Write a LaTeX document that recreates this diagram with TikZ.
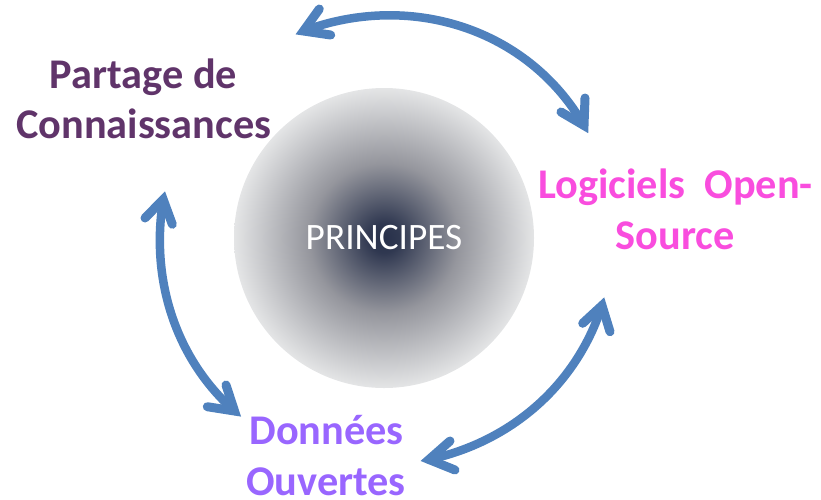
\documentclass[tikz,border=0pt]{standalone}
\usepackage{fontspec}
\setmainfont{Carlito}
\definecolor{arrowblue}{HTML}{4F81BD}
\definecolor{partagecol}{HTML}{60346A}
\definecolor{logicol}{HTML}{F94DDE}
\definecolor{donneescol}{HTML}{9966FF}
\definecolor{ballin}{HTML}{27304A}
\definecolor{ballmid}{HTML}{95969D}
\definecolor{ballout}{HTML}{E4E5E6}
\pgfdeclareradialshading{ballshade}{\pgfpoint{0bp}{0bp}}{%
 color(0bp)=(ballin); color(2.5bp)=(ballin!92!ballmid); color(12.5bp)=(ballmid); color(25bp)=(ballout); color(100bp)=(ballout)}
\tikzset{
 lab/.style={font=\bfseries\fontsize{42.3}{42.3}\selectfont,inner sep=0pt,anchor=base},
 shaft/.style={draw=arrowblue,line width=8.5pt,line cap=round,line join=round},
 head/.style={draw=arrowblue,line width=9pt,line cap=round,line join=miter,miter limit=12},
}
\begin{document}
\begin{tikzpicture}[x=1pt,y=-1pt]
\useasboundingbox (0,0) rectangle (821,499);
% ball
\node[circle,minimum size=300pt,inner sep=0pt,shading=ballshade,text=white,font=\fontsize{37.3}{37.3}\selectfont] (ball) at (384,238) {\raisebox{-1pt}{PRINCIPES}};
% labels
\node[lab,text=partagecol] (partage) at (143.5,88.5) {Partage de};
\node[lab,text=partagecol] (conn) at (143.7,138.5) {Connaissances};
\node[lab,text=logicol] (logi) at (675.5,198.7) {Logiciels\ \ Open-};
\node[lab,text=logicol] (source) at (675,249.5) {Source};
\node[lab,text=donneescol] (don) at (326.5,444) {Données};
\node[lab,text=donneescol] (ouv) at (326,495) {Ouvertes};
% top arrow
\coordinate (a1) at (303.5,31); \coordinate (a2) at (584,125.5);
\draw[shaft] (a1) .. controls (409,-8.5) and (527.7,27.7) .. (a2);
\draw[head] (319.3,9) -- (a1) -- (330.7,35);
\draw[head] (585,98) -- (a2) -- (561,112);
% left arrow
\coordinate (b1) at (163.2,199.5); \coordinate (b2) at (234.5,411);
\draw[shaft] (b1) .. controls (150.3,278) and (174.7,358) .. (b2);
\draw[head] (145,218) -- (b1) -- (172.3,224.3);
\draw[head] (226,385) -- (b2) -- (207.3,406.7);
% right arrow
\coordinate (c1) at (602,305.5); \coordinate (c2) at (429,459.5);
\draw[shaft] (c1) .. controls (576.5,385) and (511.2,441.8) .. (c2);
\draw[head] (582.7,323.3) -- (c1) -- (610,331.7);
\draw[head] (450,441) -- (c2) -- (455,470);
\end{tikzpicture}
\end{document}
